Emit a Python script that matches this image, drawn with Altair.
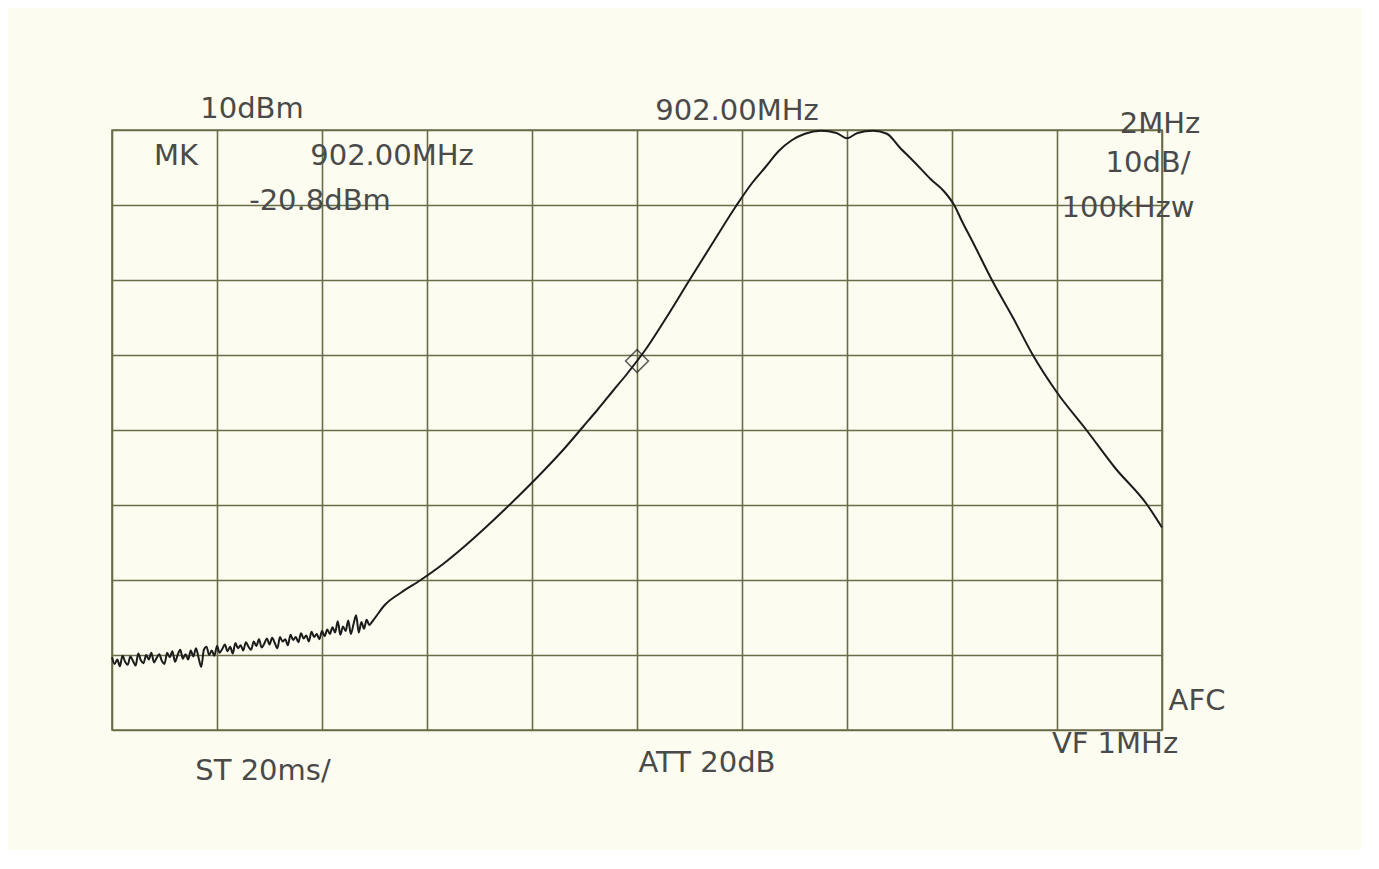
import altair as alt
import pandas as pd

# Trace read from the plotter output (frequency in MHz, level in dBm)
noise_freq = [
    892.00, 892.05, 892.10, 892.15, 892.20, 892.25, 892.30, 892.35, 892.40, 892.45,
    892.50, 892.55, 892.60, 892.65, 892.70, 892.75, 892.80, 892.85, 892.90, 892.95,
    893.00, 893.05, 893.10, 893.15, 893.20, 893.25, 893.30, 893.35, 893.40, 893.45,
    893.50, 893.55, 893.60, 893.65, 893.70, 893.75, 893.80, 893.85, 893.90, 893.95,
    894.00, 894.05, 894.10, 894.15, 894.20, 894.25, 894.30, 894.35, 894.40, 894.45,
    894.50, 894.55, 894.60, 894.65, 894.70, 894.75, 894.80, 894.85, 894.90, 894.95,
    895.00, 895.05, 895.10, 895.15, 895.20, 895.25, 895.30, 895.35, 895.40, 895.45,
    895.50, 895.55, 895.60, 895.65, 895.70, 895.75, 895.80, 895.85, 895.90, 895.95,
    896.00, 896.05, 896.10, 896.15, 896.20, 896.25, 896.30, 896.35, 896.40, 896.45,
    896.50, 896.55, 896.60, 896.65, 896.70, 896.75, 896.80, 896.85, 896.90, 896.95,
]
noise_level = [
    -60.3, -61.2, -60.6, -61.5, -60.1, -60.9, -61.3, -60.2, -60.8, -61.4,
    -59.8, -60.7, -61.1, -60.0, -60.6, -59.7, -61.0, -60.4, -59.9, -60.8,
    -61.2, -59.7, -60.3, -59.5, -60.9, -60.0, -59.3, -60.5, -59.9, -60.6,
    -59.4, -60.2, -59.1, -60.4, -61.6, -59.3, -58.9, -60.0, -59.4, -60.1,
    -58.8, -59.7, -59.2, -58.6, -59.5, -58.9, -59.8, -58.4, -59.1, -58.7,
    -59.4, -58.3, -58.9, -59.3, -58.2, -58.8, -57.9, -59.0, -58.5, -57.8,
    -58.6, -57.7, -58.4, -59.1, -57.6, -58.2, -57.9, -58.7, -57.3, -58.0,
    -57.6, -58.3, -57.1, -57.8, -57.4, -58.2, -56.9, -57.6, -57.2, -57.9,
    -56.8, -57.5, -56.6, -57.2, -56.3, -57.0, -55.5, -57.3, -56.2, -56.8,
    -55.4, -57.2, -55.9, -54.7, -57.0, -55.6, -56.5, -55.3, -56.0, -55.6,
]
slope_freq = [
    897.2, 897.5, 897.88, 898.3, 898.7, 899.1, 899.48, 899.86, 900.24, 900.6,
    900.98, 901.26, 901.54, 901.8, 902.0, 902.14, 902.56, 903.0, 903.42, 903.9,
    904.2, 904.44, 904.7, 904.94, 905.2, 905.5, 905.8, 906.0, 906.2, 906.5,
    906.76, 907.0, 907.3, 907.6, 907.85, 908.04, 908.2, 908.4, 908.76, 909.16,
    909.54, 910.0, 910.56, 911.1, 911.72, 912.0,
]
slope_level = [
    -53.3, -51.7, -50.0, -47.9, -45.6, -43.1, -40.6, -38.0, -35.3, -32.6,
    -29.5, -27.2, -24.8, -22.6, -20.8, -19.5, -15.0, -10.0, -5.3, 0.0,
    3.0, 5.0, 7.2, 8.6, 9.5, 9.9, 9.6, 8.9, 9.6, 9.9,
    9.5, 7.7, 5.6, 3.4, 1.8, 0.0, -2.3, -5.0, -10.0, -15.0,
    -20.0, -25.0, -30.0, -35.0, -40.0, -43.0,
]

marker_freq = [902.0]
marker_level = [-20.8]

x_grid = [892, 894, 896, 898, 900, 902, 904, 906, 908, 910, 912]
y_grid = [10, 0, -10, -20, -30, -40, -50, -60, -70]

# Annotation texts (screen labels of the analyzer)
ann_text = ["10dBm", "902.00MHz", "2MHz", "MK", "902.00MHz", "-20.8dBm",
            "10dB/", "100kHzw", "AFC", "ST 20ms/", "ATT 20dB", "VF 1MHz"]
ann_px = [140, 625, 1048, 64, 280, 208, 1036, 1016, 1085, 151, 595, 1003]
ann_py = [-12, -10, 3, 35, 35, 80, 42, 87, 580, 650, 642, 623]

GRID = "#6b6b47"
INK = "#1c1c1c"
TXT = "#4a4a4a"

trace = pd.DataFrame({"freq": noise_freq + slope_freq,
                      "level": noise_level + slope_level})
marker = pd.DataFrame({"freq": marker_freq, "level": marker_level})

xs = alt.Scale(domain=[892, 912], nice=False, zero=False)
ys = alt.Scale(domain=[-70, 10], nice=False, zero=False)
xax = alt.Axis(values=x_grid, labels=False, ticks=False, domain=False, grid=True, title=None)
yax = alt.Axis(values=y_grid, labels=False, ticks=False, domain=False, grid=True, title=None)

line = alt.Chart(trace).mark_line(color=INK, strokeWidth=2, interpolate="monotone").encode(
    x=alt.X("freq:Q", scale=xs, axis=xax),
    y=alt.Y("level:Q", scale=ys, axis=yax),
    order="freq:Q",
)

pt = alt.Chart(marker).mark_point(shape="diamond", filled=False, color=INK,
                                  strokeWidth=1.6, size=520).encode(
    x=alt.X("freq:Q", scale=xs),
    y=alt.Y("level:Q", scale=ys),
)

texts = []
for t, px, py in zip(ann_text, ann_px, ann_py):
    texts.append(
        alt.Chart(pd.DataFrame({"t": [t]})).mark_text(
            font="DejaVu Sans", fontSize=29, color=TXT, align="center",
            baseline="alphabetic"
        ).encode(x=alt.value(px), y=alt.value(py), text="t:N")
    )

chart = alt.layer(line, pt, *texts).properties(
    width=1050, height=600,
    padding={"left": 104, "top": 122, "right": 200, "bottom": 120},
    autosize=alt.AutoSizeParams(type="none"),
    background="#fcfcf0",
).configure_axis(
    gridColor=GRID, gridWidth=1.6, gridOpacity=1
).configure_view(
    stroke=GRID, strokeWidth=1.6
)

chart.save("out.html", embed_options={"renderer": "svg", "actions": False})
